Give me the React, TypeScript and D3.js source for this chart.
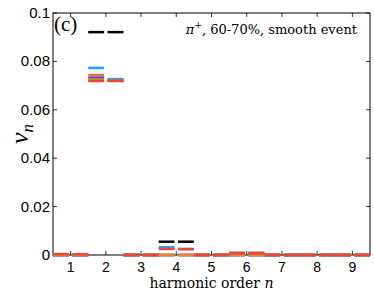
import { useEffect, useRef } from "react";
import * as d3 from "d3";

// harmonic orders
const harmonics = [1, 2, 3, 4, 5, 6, 7, 8, 9];
const yTicks = [0, 0.02, 0.04, 0.06, 0.08, 0.1];
const yTickLabels = ["0", "0.02", "0.04", "0.06", "0.08", "0.1"];

// each series: values at left half / right half of each harmonic
const seriesNames = ["black", "blue", "tan", "purple", "green", "orange", "red"];
const seriesColors = ["#000000", "#1aa3ff", "#c8823c", "#8a2be2", "#5aa02a", "#e8833a", "#f04438"];
const leftValues = [
  [0, 0.0921, 0, 0.0055, 0, 0, 0, 0, 0],
  [0, 0.0773, 0, 0.0032, 0, 0, 0, 0, 0],
  [0.0004, 0.0744, 0, 0, 0, 0.0009, 0, 0, 0],
  [0, 0.0733, 0, 0, 0, 0.0008, 0, 0, 0],
  [0, 0.0727, 0, 0, 0, 0, 0, 0, 0],
  [0, 0.0723, 0, 0, 0, 0, 0, 0, 0],
  [0.0003, 0.0719, 0, 0.0025, 0, 0.0007, 0, 0, 0],
];
const rightValues = [
  [0, 0.0921, 0, 0.0055, 0, 0, 0, 0, 0],
  [0, 0.0727, 0, 0.0025, 0, 0, 0, 0, 0],
  [0, 0.0722, 0, 0, 0, 0.0009, 0, 0, 0],
  [0, 0.0721, 0, 0, 0, 0.0008, 0, 0, 0],
  [0, 0.072, 0, 0, 0, 0, 0, 0, 0],
  [0, 0.072, 0, 0, 0, 0, 0, 0, 0],
  [0.0003, 0.0719, 0, 0.0024, 0, 0.0007, 0, 0, 0],
];

const W = 374;
const H = 291;
const margin = { top: 13, right: 4, bottom: 36, left: 53 };
const serif = "DejaVu Serif, Liberation Serif, serif";

export default function App() {
  const svgRef = useRef<SVGSVGElement>(null);

  useEffect(() => {
    if (!svgRef.current) return;
    const svg = d3.select(svgRef.current);
    svg.selectAll("*").remove();

    const x = d3.scaleLinear().domain([0.5, 9.5]).range([margin.left, W - margin.right]);
    const y = d3.scaleLinear().domain([0, 0.1]).range([H - margin.bottom, margin.top]);

    const x0 = margin.left, x1 = W - margin.right;
    const y0 = H - margin.bottom, y1 = margin.top;

    svg.append("rect").attr("width", W).attr("height", H).attr("fill", "#fff");

    // frame
    svg.append("rect")
      .attr("x", x0).attr("y", y1).attr("width", x1 - x0).attr("height", y0 - y1)
      .attr("fill", "none").attr("stroke", "#000").attr("stroke-width", 1);

    // ticks (inward, both sides)
    const tl = 4;
    harmonics.forEach((h) => {
      svg.append("line").attr("x1", x(h)).attr("x2", x(h)).attr("y1", y0).attr("y2", y0 - tl)
        .attr("stroke", "#000").attr("stroke-width", 0.8);
      svg.append("line").attr("x1", x(h)).attr("x2", x(h)).attr("y1", y1).attr("y2", y1 + tl)
        .attr("stroke", "#000").attr("stroke-width", 0.8);
      svg.append("text").attr("x", x(h)).attr("y", y0 + 17)
        .attr("text-anchor", "middle").attr("font-family", "Liberation Sans, Arial, sans-serif")
        .attr("font-size", 14).text(String(h));
    });
    yTicks.forEach((t, i) => {
      svg.append("line").attr("x1", x0).attr("x2", x0 + tl).attr("y1", y(t)).attr("y2", y(t))
        .attr("stroke", "#000").attr("stroke-width", 0.8);
      svg.append("line").attr("x1", x1).attr("x2", x1 - tl).attr("y1", y(t)).attr("y2", y(t))
        .attr("stroke", "#000").attr("stroke-width", 0.8);
      svg.append("text").attr("x", x0 - 3).attr("y", y(t) + 5)
        .attr("text-anchor", "end").attr("font-family", "Liberation Sans, Arial, sans-serif")
        .attr("font-size", 15).text(yTickLabels[i]);
    });

    // series segments, drawn back to front so red ends on top at the bottom
    const g = svg.append("g");
    seriesNames.forEach((name, si) => {
      const sg = g.append("g").attr("class", name).attr("stroke", seriesColors[si])
        .attr("stroke-width", 2.5);
      harmonics.forEach((h, hi) => {
        sg.append("line")
          .attr("x1", x(h - 0.5)).attr("x2", x(h - 0.05))
          .attr("y1", y(leftValues[si][hi])).attr("y2", y(leftValues[si][hi]));
        sg.append("line")
          .attr("x1", x(h + 0.05)).attr("x2", x(h + 0.5))
          .attr("y1", y(rightValues[si][hi])).attr("y2", y(rightValues[si][hi]));
      });
    });

    // annotations
    svg.append("text").attr("x", x0 + 1).attr("y", y1 + 18)
      .attr("font-family", "Liberation Serif, Times New Roman, serif").attr("font-size", 21)
      .text("(c)");

    const t = svg.append("text").attr("x", x1 - 13).attr("y", y1 + 21)
      .attr("text-anchor", "end").attr("font-family", serif)
      .attr("font-size", 13);
    t.append("tspan").attr("font-style", "italic").text("π");
    t.append("tspan").attr("dy", -6).attr("font-size", 9).text("+");
    t.append("tspan").attr("dy", 6).text(", 60-70%, smooth event");

    const xl = svg.append("text").attr("x", (x0 + x1) / 2).attr("y", H - 3)
      .attr("text-anchor", "middle").attr("font-family", serif)
      .attr("font-size", 14);
    xl.append("tspan").text("harmonic order ");
    xl.append("tspan").attr("font-style", "italic").text("n");

    const yl = svg.append("text").attr("transform", `translate(28,${(y0 + y1) / 2}) rotate(-90)`)
      .attr("text-anchor", "middle").attr("font-family", "Liberation Serif, Times New Roman, serif")
      .attr("font-size", 26).attr("font-style", "italic");
    yl.append("tspan").text("v");
    yl.append("tspan").attr("dy", 5).attr("font-size", 17).text("n");
  }, []);

  return (
    <div style={{ position: "fixed", left: 0, top: 0 }}>
      <svg ref={svgRef} width={W} height={H} style={{ display: "block" }} />
    </div>
  );
}
